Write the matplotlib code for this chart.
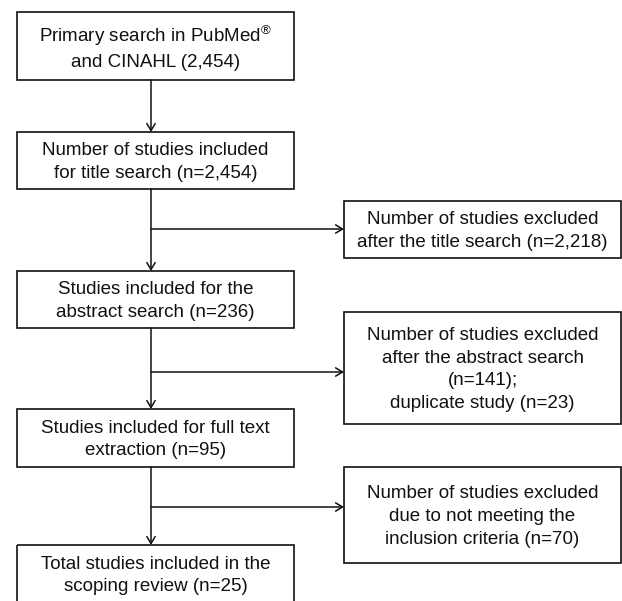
import matplotlib.pyplot as plt
from matplotlib.patches import Rectangle

plt.rcParams['font.family'] = ['Liberation Sans', 'DejaVu Sans']
plt.rcParams['mathtext.fontset'] = 'custom'
plt.rcParams['mathtext.rm'] = 'Liberation Sans'
plt.rcParams['mathtext.default'] = 'rm'

# box texts (main column, top to bottom)
main_labels = [
    'Primary search in PubMed$^{®}$\nand CINAHL (2,454)',
    'Number of studies included\nfor title search (n=2,454)',
    'Studies included for the\nabstract search (n=236)',
    'Studies included for full text\nextraction (n=95)',
    'Total studies included in the\nscoping review (n=25)',
]

# excluded boxes (right column)
excluded_labels = [
    'Number of studies excluded\nafter the title search (n=2,218)',
    'Number of studies excluded\nafter the abstract search\n(n=141);\nduplicate study (n=23)',
    'Number of studies excluded\ndue to not meeting the\ninclusion criteria (n=70)',
]

# layout in pixels (top, bottom)
main_x = (17, 294)
main_y = [(12, 80), (132, 189), (271, 328), (409, 467), (545, 603)]
side_x = (344, 621)
side_y = [(201, 258), (312, 424), (467, 563)]
branch_y = [229, 372, 507]
spine_x = 151

fig = plt.figure(figsize=(6.22, 6.01), dpi=100)
ax = fig.add_axes([0, 0, 1, 1])
ax.set_xlim(0, 622)
ax.set_ylim(601, 0)
ax.axis('off')

def drawBox(x, y, text):
    rect = Rectangle((x[0], y[0]), x[1] - x[0], y[1] - y[0], fill=False,
                     edgecolor='#111111', linewidth=1.2, clip_on=True)
    ax.add_patch(rect)
    ax.text((x[0] + x[1]) / 2, (y[0] + y[1]) / 2 + 1.5, text, ha='center', va='center',
            fontsize=13.5, linespacing=1.45, color='#111111')

def drawArrow(x0, y0, x1, y1):
    ax.annotate('', xy=(x1, y1), xytext=(x0, y0),
                arrowprops=dict(arrowstyle='->,head_length=0.5,head_width=0.3',
                                color='#111111', lw=1.1, shrinkA=0, shrinkB=0))

for lab, y in zip(main_labels, main_y):
    drawBox(main_x, y, lab)

for lab, y in zip(excluded_labels, side_y):
    drawBox(side_x, y, lab)

for i in range(len(main_y) - 1):
    drawArrow(spine_x, main_y[i][1], spine_x, main_y[i + 1][0])

for by in branch_y:
    drawArrow(spine_x, by, side_x[0], by)

fig.savefig('out.png', dpi=100)
